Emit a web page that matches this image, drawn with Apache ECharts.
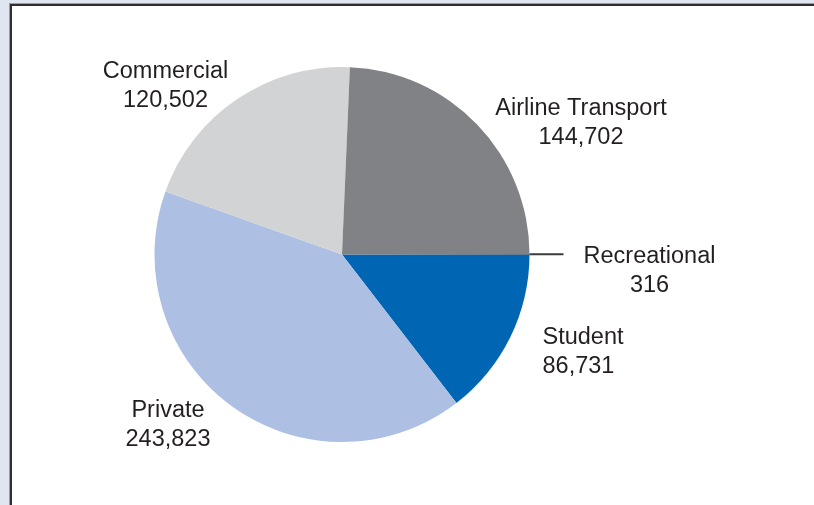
<!DOCTYPE html>
<html>
<head>
<meta charset="utf-8">
<script src="https://cdn.jsdelivr.net/npm/echarts@6/dist/echarts.min.js"></script>
<style>
  html, body { margin: 0; padding: 0; width: 814px; height: 505px; overflow: hidden; background: #dfe5f1; }
  #frame {
    position: absolute; left: 10px; top: 4px; width: 840px; height: 540px;
    background: #ffffff; border-left: 2px solid #2e2e30; border-top: 2px solid #2e2e30;
    box-shadow: -1px -1px 0 #9a9ca3;
  }
  #chart { position: absolute; left: 0; top: 0; width: 814px; height: 505px; }
</style>
</head>
<body>
<div id="frame"></div>
<div id="chart"></div>
<script>
// Pilot certificates held, by certificate type
const categories = ['Student', 'Private', 'Commercial', 'Airline Transport', 'Recreational'];
const pilots = [86731, 243823, 120502, 144702, 316];

// Slice fills, in the same order as the categories
const sliceColors = ['#0066b3', '#adbfe2', '#d1d3d4', '#808285', '#404040'];

// Where each two-line label sits (text anchor, top of block)
const labelSpots = [
  { x: 542.5, y: 323, align: 'left' },
  { x: 168, y: 396, align: 'center' },
  { x: 165.5, y: 57, align: 'center' },
  { x: 581, y: 94.5, align: 'center' },
  { x: 649.5, y: 242, align: 'center' }
];

const fmt = v => v.toLocaleString('en-US');

const chart = echarts.init(document.getElementById('chart'), null, { renderer: 'canvas' });

chart.setOption({
  animation: false,
  backgroundColor: 'transparent',
  series: [{
    type: 'pie',
    center: [342, 254.5],
    radius: 187.5,
    startAngle: 0,
    clockwise: true,
    avoidLabelOverlap: false,
    silent: true,
    emphasis: { disabled: true },
    itemStyle: { borderWidth: 0 },
    data: categories.map((name, i) => ({
      name: name,
      value: pilots[i],
      itemStyle: { color: sliceColors[i] },
      labelLine: { show: name === 'Recreational', length: 17, length2: 17 }
    })),
    label: {
      show: true,
      position: 'outside',
      fontFamily: '"Liberation Sans", Arial, sans-serif',
      fontSize: 23.5,
      lineHeight: 29,
      color: '#231f20',
      formatter: p => p.name + '\n' + fmt(p.value)
    },
    labelLine: {
      lineStyle: { color: '#3c3c3e', width: 2 }
    },
    labelLayout: function (params) {
      const i = params.dataIndex;
      const s = labelSpots[i];
      const out = { x: s.x, y: s.y, align: s.align, verticalAlign: 'top' };
      if (categories[i] === 'Recreational') {
        out.labelLinePoints = params.labelLinePoints;
      }
      return out;
    }
  }]
});
</script>
</body>
</html>
